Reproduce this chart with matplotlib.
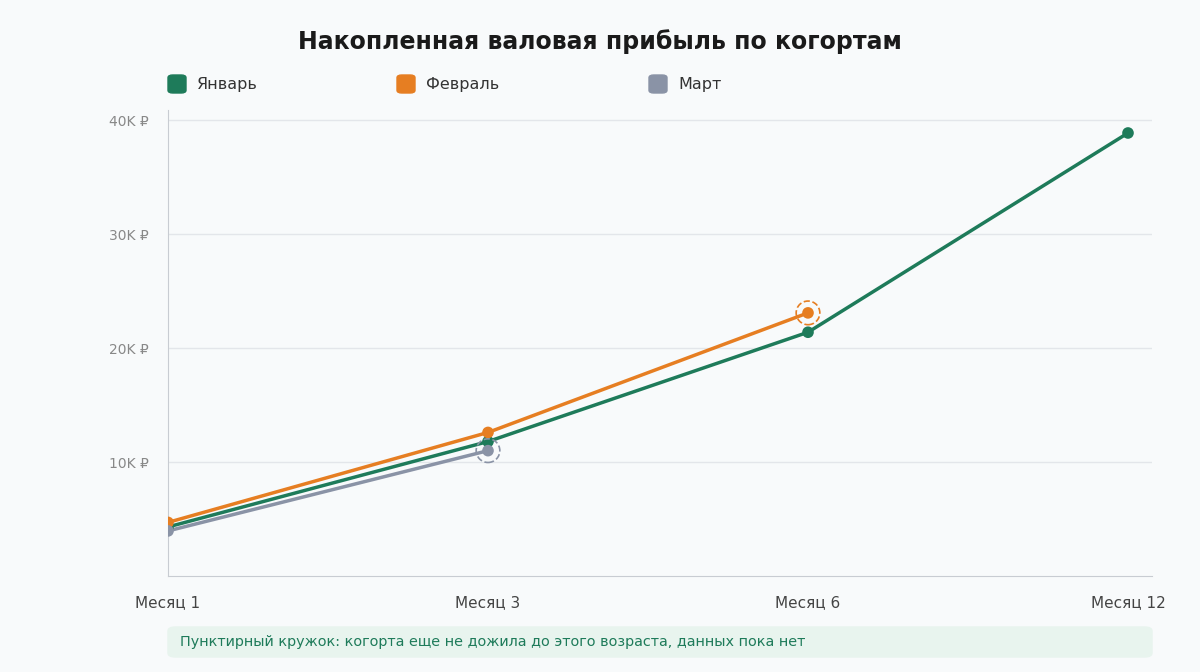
import matplotlib
matplotlib.use("Agg")
import matplotlib.pyplot as plt
from matplotlib.patches import FancyBboxPatch

months = ["Месяц 1", "Месяц 3", "Месяц 6", "Месяц 12"]
jan = [4300, 11800, 21400, 38900]
feb = [4700, 12600, 23100]
mar = [3950, 11000]
names = ["Январь", "Февраль", "Март"]
colors = ["#1e7b5a", "#e67e22", "#8a93a6"]
yticks = [10000, 20000, 30000, 40000]
ylabels = ["10K ₽", "20K ₽", "30K ₽", "40K ₽"]

bg = "#f8fafb"
fig = plt.figure(figsize=(12, 6.72), dpi=100, facecolor=bg)
ax = fig.add_axes([0.14, 0.143, 0.82, 0.693], facecolor=bg)

for s, c in zip([jan, feb, mar], colors):
    x = list(range(len(s)))
    ax.plot(x, s, color=c, lw=2.5, zorder=3)
    ax.scatter(x, s, s=70, color=c, zorder=4, edgecolors="none")
for s, c in [(feb, colors[1]), (mar, colors[2])]:
    ax.scatter([len(s) - 1], [s[-1]], s=290, facecolors="none", edgecolors=c,
               linestyles="--", linewidths=1.2, zorder=5)

ax.set_xlim(0, 3.075)
ax.set_ylim(0, 40900)
ax.set_xticks(range(4))
ax.set_xticklabels(months, fontsize=11, color="#444")
ax.set_yticks(yticks)
ax.set_yticklabels(ylabels, fontsize=10, color="#888")
ax.tick_params(length=0, pad=14)
ax.grid(axis="y", color="#e3e6ea", lw=1)
ax.set_axisbelow(True)
for sp in ["top", "right"]:
    ax.spines[sp].set_visible(False)
for sp in ["left", "bottom"]:
    ax.spines[sp].set_color("#c8ccd2")

fig.text(0.5, 0.938, "Накопленная валовая прибыль по когортам", ha="center", va="center",
         fontsize=17, fontweight="bold", color="#1a1a1a")
lx = [168, 397, 649]
for x0, n, c in zip(lx, names, colors):
    fig.patches.append(FancyBboxPatch((x0 / 1200, 1 - 93 / 672), 18 / 1200, 18 / 672,
                                      boxstyle="round,pad=0,rounding_size=0.004",
                                      transform=fig.transFigure, color=c))
    fig.text((x0 + 29) / 1200, 1 - 84 / 672, n, va="center", fontsize=11.5, color="#333")

fig.patches.append(FancyBboxPatch((168 / 1200, 1 - 657 / 672), 984 / 1200, 30 / 672,
                                  boxstyle="round,pad=0,rounding_size=0.006",
                                  transform=fig.transFigure, color="#e8f4ee"))
fig.text(180 / 1200, 1 - 642 / 672,
         "Пунктирный кружок: когорта еще не дожила до этого возраста, данных пока нет",
         va="center", fontsize=10.4, color="#1e7b5a")

fig.savefig("out.png", dpi=100, facecolor=bg)
